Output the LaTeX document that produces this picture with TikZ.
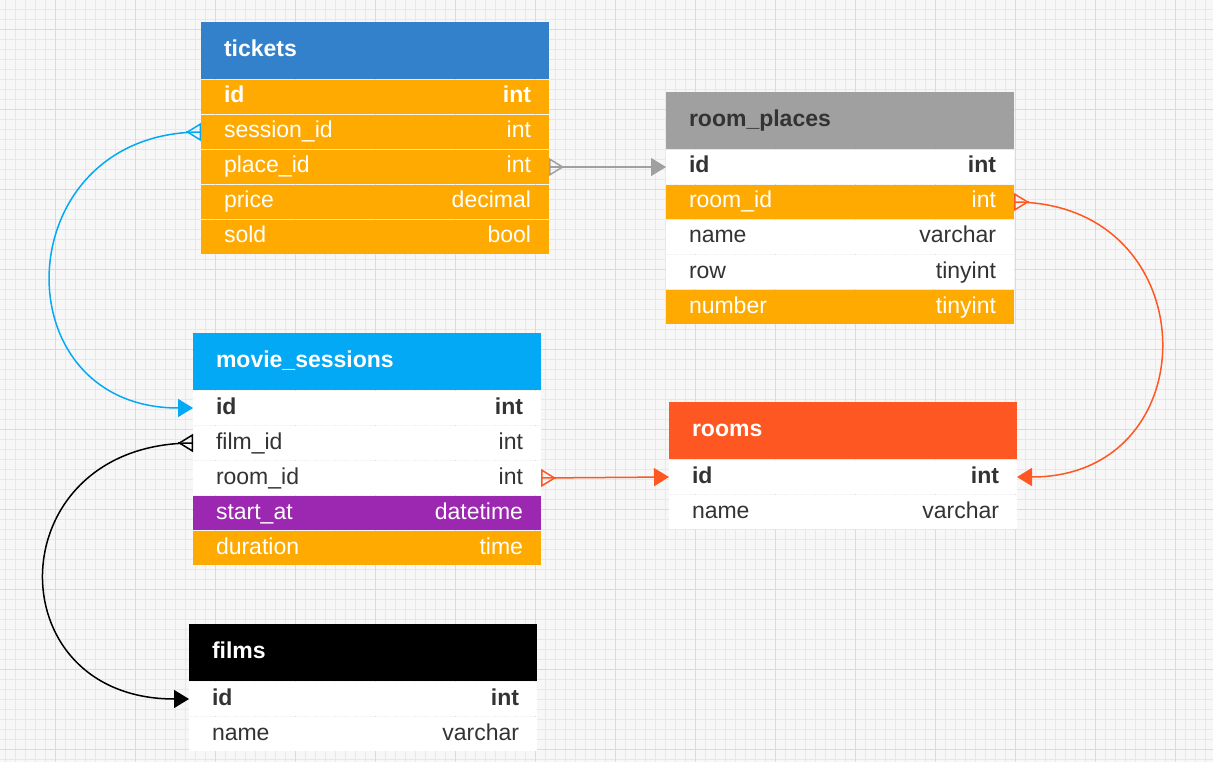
\documentclass[tikz,border=0pt]{standalone}
\usepackage{fontspec}
\setmainfont{Liberation Sans}
\usetikzlibrary{positioning, arrows.meta}
\definecolor{paper}{HTML}{F7F7F7}
\definecolor{gridlo}{HTML}{E3E9F3}
\definecolor{gridhi}{HTML}{D3DCEB}
\definecolor{col1}{HTML}{3481CB}
\definecolor{col2}{HTML}{A0A0A0}
\definecolor{col3}{HTML}{03A9F4}
\definecolor{col4}{HTML}{FF5722}
\definecolor{col5}{HTML}{FFAA00}
\definecolor{col6}{HTML}{9C27B0}
\definecolor{ink}{HTML}{333333}
\newcommand{\erfield}[2]{\hspace*{5pt}#1\hfill #2}
\tikzset{
  field/.style = {rectangle, minimum width=348pt, minimum height=34pt,
    inner xsep=0pt, inner ysep=0pt, outer sep=0pt, text width=312pt,
    text height=17pt, text depth=5pt, fill=white, text=ink,
    font=\fontsize{23}{27}\selectfont},
  head/.style = {field, minimum height=57pt, text=white,
    font=\fontsize{23}{27}\selectfont\bfseries},
  key/.style = {font=\fontsize{23}{27}\selectfont\bfseries},
  fk/.style = {fill=col5, text=white},
  rel/.style = {line width=1.5pt, draw=#1, -{Triangle[length=15pt, width=18pt]}},
  crow/.style = {line width=1.5pt, draw=#1, {Triangle[open, reversed, length=15pt, width=18pt]}-}
}

\begin{document}
\begin{tikzpicture}[x=1pt, y=-1pt]
\useasboundingbox (0,0) rectangle (1213,762);
% background grid
\fill [paper] (0,0) rectangle (1213,762);
\draw [gridlo, line width=0.6pt, step=10pt, shift={(5,9)}] (-5,-9) grid (1208,753);
\draw [gridhi, line width=0.8pt, step=80pt, shift={(55,29)}] (-55,-29) grid (1158,733);

% tickets
\node (tk) [head, fill=col1, anchor=north west] at (201,22) {\erfield{tickets}{}};
\node (tk-id) [field, fk, key, below=1pt of tk] {\erfield{id}{int}};
\node (tk-sid) [field, fk, below=1pt of tk-id] {\erfield{session\_id}{int}};
\node (tk-pid) [field, fk, below=1pt of tk-sid] {\erfield{place\_id}{int}};
\node (tk-price) [field, fk, below=1pt of tk-pid] {\erfield{price}{decimal}};
\node (tk-sold) [field, fk, below=1pt of tk-price] {\erfield{sold}{bool}};

% room_places
\node (rp) [head, fill=col2, text=ink, anchor=north west] at (666,92) {\erfield{room\_places}{}};
\node (rp-id) [field, key, below=1pt of rp] {\erfield{id}{int}};
\node (rp-rid) [field, fk, below=1pt of rp-id] {\erfield{room\_id}{int}};
\node (rp-name) [field, below=1pt of rp-rid] {\erfield{name}{varchar}};
\node (rp-row) [field, below=1pt of rp-name] {\erfield{row}{tinyint}};
\node (rp-num) [field, fk, below=1pt of rp-row] {\erfield{number}{tinyint}};

% movie_sessions
\node (ms) [head, fill=col3, anchor=north west] at (193,333) {\erfield{movie\_sessions}{}};
\node (ms-id) [field, key, below=1pt of ms] {\erfield{id}{int}};
\node (ms-fid) [field, below=1pt of ms-id] {\erfield{film\_id}{int}};
\node (ms-rid) [field, below=1pt of ms-fid] {\erfield{room\_id}{int}};
\node (ms-start) [field, fill=col6, text=white, below=1pt of ms-rid] {\erfield{start\_at}{datetime}};
\node (ms-dur) [field, fk, below=1pt of ms-start] {\erfield{duration}{time}};

% rooms
\node (rm) [head, fill=col4, anchor=north west] at (669,402) {\erfield{rooms}{}};
\node (rm-id) [field, key, below=1pt of rm] {\erfield{id}{int}};
\node (rm-name) [field, below=1pt of rm-id] {\erfield{name}{varchar}};

% films
\node (fm) [head, fill=black, anchor=north west] at (189,624) {\erfield{films}{}};
\node (fm-id) [field, key, below=1pt of fm] {\erfield{id}{int}};
\node (fm-name) [field, below=1pt of fm-id] {\erfield{name}{varchar}};

% relations
\draw [rel=col3] (tk-sid.west) to [out=180, in=180, looseness=1.8] (ms-id.west);
\draw [rel=col2] (tk-pid.east) -- (rp-id.west);
\draw [rel=col4] (rp-rid.east) to [out=0, in=0, looseness=1.8] (rm-id.east);
\draw [rel=col4] (ms-rid.east) -- (rm-id.west);
\draw [rel=black] (ms-fid.west) to [out=180, in=180, looseness=1.95] (fm-id.west);

% crow's feet (many side)
\draw [crow=col3] (tk-sid.west) -- +(-15,0);
\draw [crow=col2] (tk-pid.east) -- +(15,0);
\draw [crow=col4] (rp-rid.east) -- +(15,0);
\draw [crow=col4] (ms-rid.east) -- +(15,0);
\draw [crow=black] (ms-fid.west) -- +(-15,0);
\end{tikzpicture}
\end{document}
